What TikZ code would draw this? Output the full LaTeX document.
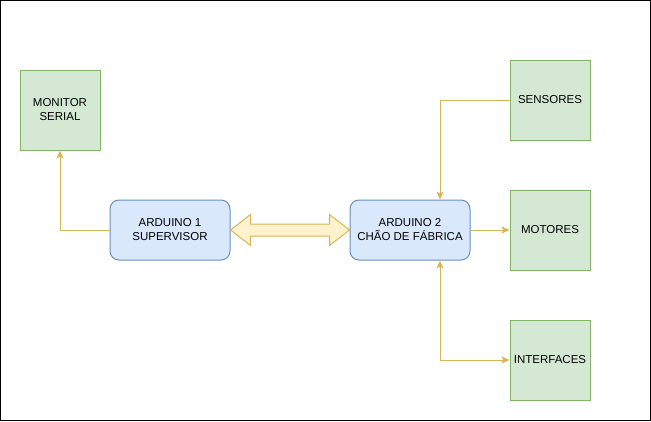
\documentclass[tikz,border=0pt]{standalone}
\usepackage{fontspec}
\setmainfont{Liberation Sans}
\usetikzlibrary{arrows.meta,calc}
\definecolor{gfill}{HTML}{D5E8D4}
\definecolor{gdraw}{HTML}{82B366}
\definecolor{bfill}{HTML}{DAE8FC}
\definecolor{bdraw}{HTML}{6C8EBF}
\definecolor{yfill}{HTML}{FFF2CC}
\definecolor{ydraw}{HTML}{D6B656}
\begin{document}
\begin{tikzpicture}[x=1pt,y=-1pt,
  greenbox/.style={draw=gdraw,fill=gfill,line width=1pt,minimum width=80pt,minimum height=80pt,inner sep=0pt,align=center,font=\fontsize{11.5}{14}\selectfont},
  bluebox/.style={draw=bdraw,fill=bfill,line width=1pt,rounded corners=9pt,minimum width=120pt,minimum height=60pt,inner sep=0pt,align=center,font=\fontsize{11.5}{14}\selectfont},
  conn/.style={draw=ydraw,line width=1pt,-{Stealth[length=8pt,width=7pt,inset=2pt]}},
  conn2/.style={draw=ydraw,line width=1pt,{Stealth[length=8pt,width=7pt,inset=2pt]}-{Stealth[length=8pt,width=7pt,inset=2pt]}}
]
\useasboundingbox (0,0) rectangle (651,421);
\draw[black,line width=1pt] (0.5,0.5) rectangle (650.5,420.5);
\node[greenbox] (mon) at (60,110) {MONITOR\\SERIAL};
\node[bluebox] (a1) at (170,230) {ARDUINO 1\\SUPERVISOR};
\node[bluebox] (a2) at (410,230) {ARDUINO 2\\CHÃO DE FÁBRICA};
\node[greenbox] (sen) at (550,100) {SENSORES};
\node[greenbox] (mot) at (550,230) {MOTORES};
\node[greenbox] (int) at (550,360) {INTERFACES};
\coordinate (c1) at (a1.west -| mon.south);
\draw[conn] (a1.west) -- (c1) -- (mon.south);
\coordinate (c2) at ($(a2.north)+(30,0)$);
\draw[conn] (sen.west) -- (sen.west -| c2) -- (c2);
\draw[conn] (a2.east) -- (mot.west);
\coordinate (c3) at ($(a2.south)+(30,0)$);
\draw[conn2] (c3) -- (c3 |- int.west) -- (int.west);
\draw[draw=ydraw,fill=yfill,line width=1pt,line join=miter]
  (a1.east) -- ++(20,-15.5) -- ++(0,9.5) coordinate (b1) -- ($(a2.west)+(-20,-6)$) -- ++(0,-9.5)
  -- (a2.west) -- ++(-20,15.5) -- ++(0,-9.5) -- ($(a1.east)+(20,6)$) -- ++(0,9.5) -- cycle;
\end{tikzpicture}
\end{document}
